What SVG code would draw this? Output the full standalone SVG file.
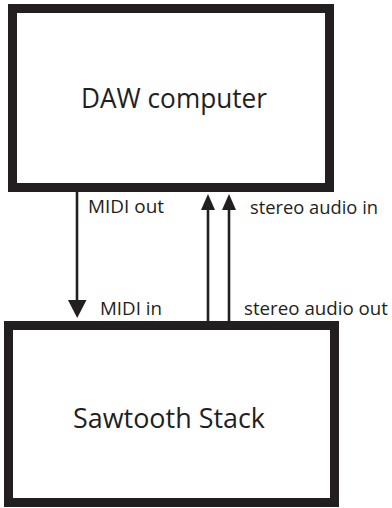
<svg xmlns="http://www.w3.org/2000/svg" width="392" height="508" viewBox="0 0 392 508">
<style>
.box{fill:#fff;stroke:#231f20;stroke-width:9}
.big{font-family:"Open Sans","Noto Sans",sans-serif;font-size:26.5px;fill:#231f20}
.lbl{font-family:"Open Sans","Noto Sans",sans-serif;font-size:17.5px;fill:#231f20}
.ln{stroke:#231f20;stroke-width:2.6;fill:none}
.ah{fill:#231f20}
</style>
<rect width="392" height="508" fill="#fff"/>
<g id="daw">
<rect class="box" x="12.5" y="8.5" width="317" height="179"/>
<text class="big" x="81" y="108" textLength="186" lengthAdjust="spacingAndGlyphs">DAW computer</text>
</g>
<g id="sawtooth">
<rect class="box" x="8.5" y="325.5" width="326" height="177"/>
<text class="big" x="73" y="428" textLength="192" lengthAdjust="spacingAndGlyphs">Sawtooth Stack</text>
</g>
<g id="connectors">
<line class="ln" x1="77" y1="192" x2="77" y2="301"/>
<polygon class="ah" points="68,300 86.5,300 77.2,318"/>
<line class="ln" x1="208" y1="321" x2="208" y2="209"/>
<polygon class="ah" points="201,210 215,210 208,194"/>
<line class="ln" x1="229" y1="321" x2="229" y2="209"/>
<polygon class="ah" points="222,210 236,210 229,194"/>
<text class="lbl" x="88" y="213" textLength="76" lengthAdjust="spacingAndGlyphs">MIDI out</text>
<text class="lbl" x="100" y="315" textLength="62" lengthAdjust="spacingAndGlyphs">MIDI in</text>
<text class="lbl" x="250" y="213.5" textLength="128" lengthAdjust="spacingAndGlyphs">stereo audio in</text>
<text class="lbl" x="244" y="315" textLength="144" lengthAdjust="spacingAndGlyphs">stereo audio out</text>
</g>
</svg>
